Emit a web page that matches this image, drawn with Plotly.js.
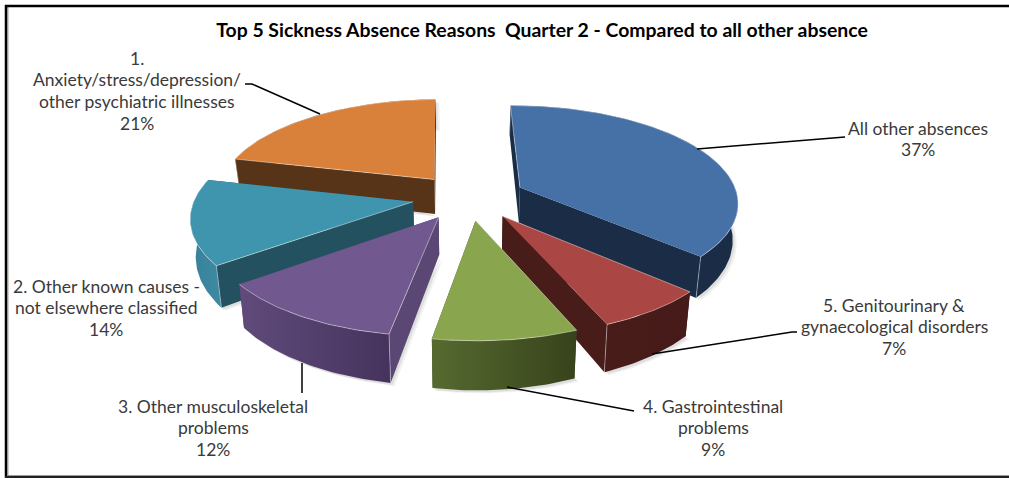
<!DOCTYPE html>
<html>
<head>
<meta charset="utf-8">
<script src="https://cdn.plot.ly/plotly-3.0.1.min.js"></script>
<style>html,body{margin:0;padding:0;background:#fff}#chart{width:1009px;height:478px}</style>
</head>
<body>
<div id="chart"></div>
<script>
// Sickness absence shares, clockwise from twelve o'clock
const categories = [
  ["All other absences"],
  ["5. Genitourinary &", "gynaecological disorders"],
  ["4. Gastrointestinal", "problems"],
  ["3. Other musculoskeletal", "problems"],
  ["2. Other known causes -", "not elsewhere classified"],
  ["1.", "Anxiety/stress/depression/", "other psychiatric illnesses"]
];
const shares = [37, 7, 9, 12, 14, 21];

// Face colours for each slice
const topColours  = ["#4671a7", "#aa4643", "#89a54e", "#71588f", "#4095ae", "#d9803b"];
const rimLeft     = ["#1b2d46", "#471c19", "#566a30", "#604b7b", "#37819a", "#573317"];
const rimRight    = ["#1b2d46", "#451a18", "#37431b", "#45335d", "#3f8aa3", "#573317"];
const sideColours = ["#1b2d46", "#471c19", "#3e4b20", "#5a4774", "#23515f", "#573317"];

// Label anchors (centre x, first line y) and leader lines, in plot pixels
const labelAnchors = [[918, 128], [894, 305], [713, 406], [213, 406], [106, 286], [137, 58]];
const lineStep = 21.7;
const leaderLines = [
  [[697, 149], [838, 137], [845, 137]],
  [[652, 354], [792, 332], [797, 332]],
  [[507, 387], [620, 409], [634, 411]],
  [[302, 363], [302, 393]],
  [[245, 84], [252, 84], [320, 114]]
];

// Projection of the tilted, exploded disc
const cx = 469, cy = 197, scaleX = 218, scaleY = 96, persp = 0.14, startAngle = -1;
const explodeX = 0.26, explodeY = 0.24, depth = 36, depthPersp = 0.22, taper = 0.98;
const drawOrder = [5, 0, 4, 3, 1, 2];

const rad = d => d * Math.PI / 180;
const project = (X, Y) => {
  const w = 1 + persp * Y;
  return [cx + scaleX * X / w, cy - scaleY * Y / w];
};
const lower = (X, Y) => {
  const [x, y] = project(X, Y);
  return [cx + (x - cx) * taper, y + depth / (1 + depthPersp * Y)];
};

const total = shares.reduce((a, b) => a + b, 0);
let running = 0;
const slices = shares.map(v => {
  const a0 = startAngle + running / total * 360;
  running += v;
  return { a0, a1: startAngle + running / total * 360 };
});

const poly = (pts, fill, extra) => Object.assign({
  x: pts.map(p => p[0]), y: pts.map(p => p[1]),
  mode: "lines", fill: "toself", fillcolor: fill,
  line: { width: 0 }, hoverinfo: "skip", showlegend: false
}, extra || {});
const edge = "rgba(255,255,255,0.55)";

const traces = [];
drawOrder.forEach(i => {
  const { a0, a1 } = slices[i];
  const mid = rad((a0 + a1) / 2);
  const ox = explodeX * Math.sin(mid), oy = explodeY * Math.cos(mid);
  const arc = [];
  const steps = Math.max(8, Math.round(a1 - a0));
  for (let k = 0; k <= steps; k++) {
    const t = rad(a0 + (a1 - a0) * k / steps);
    arc.push([ox + Math.sin(t), oy + Math.cos(t)]);
  }
  const topArc = arc.map(p => project(p[0], p[1]));
  const lowArc = arc.map(p => lower(p[0], p[1]));
  const apexT = project(ox, oy), apexB = lower(ox, oy);

  // soft drop shadow beneath the solid
  [[4, 3, 0.07], [2, 2, 0.1]].forEach(([dx, dy, al]) => {
    traces.push(poly([apexB, ...lowArc, topArc[topArc.length - 1], topArc[0]].map(p => [p[0] + dx, p[1] + dy]),
      "rgba(60,60,60," + al + ")"));
  });

  const faceA = [apexT, topArc[0], lowArc[0], apexB];
  const faceB = [apexT, topArc[steps], lowArc[steps], apexB];
  const aVisible = Math.sin(rad(a0)) < 0, bVisible = Math.sin(rad(a1)) > 0;

  if (!aVisible) traces.push(poly(faceA, sideColours[i]));
  if (!bVisible) traces.push(poly(faceB, sideColours[i]));

  // outer rim, shaded across its width
  traces.push(poly([...topArc, ...lowArc.slice().reverse()], rimLeft[i], {
    fillgradient: { type: "horizontal", colorscale: [[0, rimLeft[i]], [1, rimRight[i]]] }
  }));

  if (aVisible) traces.push(poly(faceA, sideColours[i]));
  if (bVisible) traces.push(poly(faceB, sideColours[i]));
  [aVisible ? topArc[0] : null, bVisible ? topArc[steps] : null].forEach((p, n) => {
    if (!p) return;
    const q = n === 0 ? lowArc[0] : lowArc[steps];
    traces.push({ x: [p[0], q[0]], y: [p[1], q[1]], mode: "lines", line: { width: 0.7, color: edge },
      hoverinfo: "skip", showlegend: false });
  });

  traces.push(poly([apexT, ...topArc], topColours[i], { line: { width: 0.8, color: edge } }));
});

// leader lines
leaderLines.forEach(l => traces.push({
  x: l.map(p => p[0]), y: l.map(p => p[1]), mode: "lines",
  line: { color: "#000", width: 1.5 }, hoverinfo: "skip", showlegend: false
}));

// one annotation per text line keeps the leading tight
const annotations = [];
categories.forEach((lines, i) => {
  [...lines, shares[i] + "%"].forEach((text, n) => annotations.push({
    x: labelAnchors[i][0], y: labelAnchors[i][1] + n * lineStep, xref: "x", yref: "y",
    text, showarrow: false, xanchor: "center", yanchor: "middle",
    font: { family: "Lato, sans-serif", size: 17.5, color: "#3a3a3a" }
  }));
});

// frame on the left, top and bottom only
const rule = (x0, y0, x1, y1, color, width) => ({
  type: "line", xref: "x", yref: "y", x0, y0, x1, y1, line: { color, width }, layer: "below"
});
const frame = [
  rule(6, 5, 6, 478, "#000", 2.5),
  rule(7.8, 6, 7.8, 476, "#8a8a8a", 1.2),
  rule(5, 6, 1009, 6, "#000", 2.5),
  rule(5, 477, 1009, 477, "#222", 2),
  rule(8, 475.5, 1009, 475.5, "#999", 1)
];

Plotly.newPlot("chart", traces, {
  width: 1009, height: 478,
  margin: { l: 0, r: 0, t: 0, b: 0 },
  paper_bgcolor: "#fff", plot_bgcolor: "#fff",
  title: { text: "<b>Top 5 Sickness Absence Reasons  Quarter 2 - Compared to all other absence</b>",
    x: 542 / 1009, xanchor: "center", y: 1 - 30 / 478, yanchor: "middle",
    font: { family: "Lato, sans-serif", size: 19.4, color: "#000" } },
  xaxis: { range: [0, 1009], visible: false, fixedrange: true },
  yaxis: { range: [478, 0], visible: false, fixedrange: true },
  annotations, shapes: frame, showlegend: false
}, { displayModeBar: false, staticPlot: true });
</script>
</body>
</html>
